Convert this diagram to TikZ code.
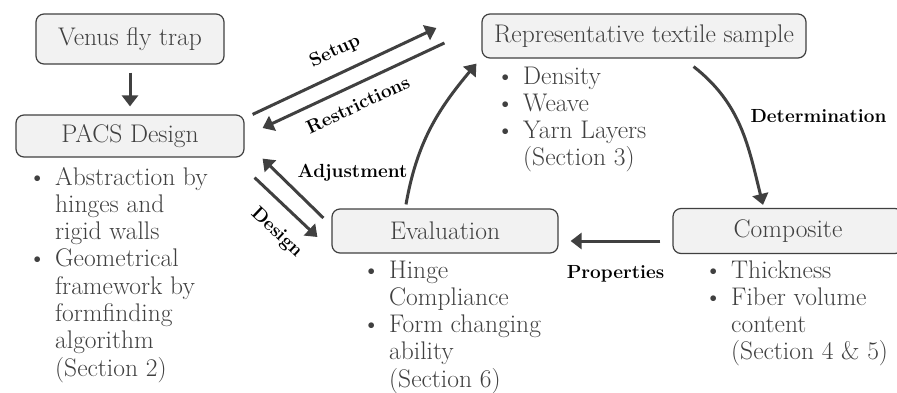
\documentclass[tikz,border=0pt]{standalone}
\usepackage{xcolor}
\usepackage{tikz}
\usetikzlibrary{arrows.meta, positioning, calc}
\definecolor{boxgray}{RGB}{64,64,64}
\definecolor{boxfill}{RGB}{242,242,242}
\definecolor{textgray}{RGB}{64,64,64}
\newcommand{\bitem}{\makebox[27pt][l]{\textbullet}}

\begin{document}
\begin{tikzpicture}[
  x=1pt,y=1pt,
  stage/.style={
    rectangle, rounded corners=8pt, line width=1.2pt,
    draw=boxgray, fill=boxfill, text=textgray,
    minimum height=44pt, inner sep=0pt,
    align=center, font=\fontsize{25.5}{27.3}\selectfont
  },
  bullets/.style={
    anchor=base west, inner sep=0pt, text=textgray,
    font=\fontsize{25.5}{27.3}\selectfont
  },
  arrow/.style={-{Triangle[length=11pt,width=16pt]}, line width=3pt, draw=boxgray},
  note/.style={font=\fontsize{19}{22}\selectfont\bfseries, text=black, inner sep=0pt}
]

\useasboundingbox (0,0) rectangle (897,-392);

% ---- Stages of the cycle ----
\node[stage, minimum width=188pt, minimum height=50pt] (venus) at (130,-39) {Venus fly trap};
\node[stage, minimum width=228pt, minimum height=42pt] (pacs) at (130,-136) {PACS Design};
\node[stage, minimum width=324pt] (sample) at (644,-36) {Representative textile sample};
\node[stage, minimum width=226pt] (eval) at (445,-231) {Evaluation};
\node[stage, minimum width=230pt, minimum height=45pt] (comp) at (788,-231) {Composite};

% ---- Bullet lists below the stages ----
\node[bullets] (pacslist) at (28,-185) {\begin{tabular}[t]{@{}l@{}l@{}}
  \bitem & Abstraction by\\ & hinges and\\ & rigid walls\\
  \bitem & Geometrical\\ & framework by\\ & formfinding\\ & algorithm\\ & (Section 2)
\end{tabular}};
\node[bullets] (samplelist) at (496,-84) {\begin{tabular}[t]{@{}l@{}l@{}}
  \bitem & Density\\ \bitem & Weave\\ \bitem & Yarn Layers\\ & (Section 3)
\end{tabular}};
\node[bullets] (evallist) at (362,-278) {\begin{tabular}[t]{@{}l@{}l@{}}
  \bitem & Hinge\\ & Compliance\\ \bitem & Form changing\\ & ability\\ & (Section 6)
\end{tabular}};
\node[bullets] (complist) at (704,-278) {\begin{tabular}[t]{@{}l@{}l@{}}
  \bitem & Thickness\\ \bitem & Fiber volume\\ & content\\ & (Section 4 \& 5)
\end{tabular}};

% ---- Inspiration ----
\draw[arrow, shorten <=8pt, shorten >=8pt] (venus) -- (pacs);

% ---- Design <-> textile sample ----
\draw[arrow] ([xshift=8pt]pacs.north east) -- ([shift={(-45,8)}]sample.west)
  node[note, sloped, pos=0.5, above=12pt] {Setup};
\draw[arrow] ([shift={(-37,-7)}]sample.west) -- ([shift={(18,8)}]pacs.east)
  node[note, sloped, pos=0.52, below=11pt] {Restrictions};

% ---- Design <-> evaluation ----
\draw[arrow] ([shift={(-8,13)}]eval.west) -- ([shift={(18,-1)}]pacs.south east)
  node[note, pos=0.76, right=19pt] {Adjustment};
\draw[arrow] ([shift={(10,-20)}]pacs.south east) -- ([shift={(-14,-6)}]eval.west)
  node[note, sloped, pos=0.62, below=15pt] {Design};

% ---- Outer loop: sample -> composite -> evaluation -> sample ----
\draw[arrow] ([shift={(-113,-8)}]sample.south east) to[out=-38, in=104]
  node[note, pos=0.41, right=14pt] {Determination} ([shift={(-25,3)}]comp.north);
\draw[arrow] ([shift={(-12,-10)}]comp.west) -- ([shift={(12,-10)}]eval.east)
  node[note, midway, below=23pt] {Properties};
\draw[arrow] ([shift={(-39,4)}]eval.north) to[out=80, in=230] ([shift={(-5,-5)}]sample.south west);

\end{tikzpicture}
\end{document}
